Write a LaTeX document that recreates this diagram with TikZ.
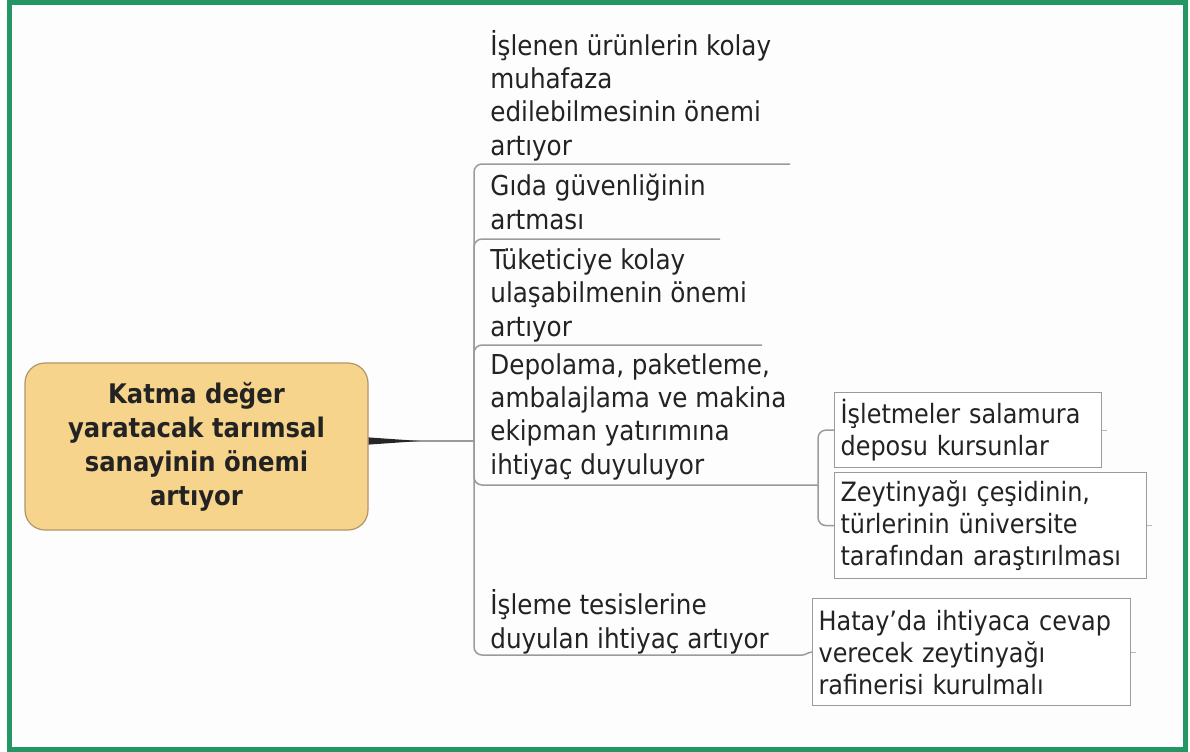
\documentclass[tikz,border=0pt]{standalone}
\usepackage{fontspec}
\setmainfont{DejaVu Sans Condensed}
\usepackage{tikz}

\definecolor{rahmen}{RGB}{35,150,100}
\definecolor{kasten}{RGB}{247,212,140}
\definecolor{kastenrand}{RGB}{175,150,105}
\definecolor{linie}{RGB}{155,155,155}
\definecolor{schrift}{RGB}{35,35,35}

\begin{document}
\begin{tikzpicture}[x=0.5pt,y=-0.5pt,
		thema/.style={draw=kastenrand,fill=kasten,line width=0.6pt,rounded corners=10pt,
			minimum width=171.5pt,minimum height=83.5pt,align=center,text=schrift,
			font=\bfseries\fontsize{13.5}{17}\selectfont},
		punkt/.style={anchor=base west,align=left,inner sep=0pt,text=schrift,
			font=\fontsize{13.7}{16.6}\selectfont},
		kiste/.style={draw=linie,fill=white,line width=0.6pt,anchor=north west,align=left,
			inner xsep=3pt,inner ysep=0pt,text=schrift,font=\fontsize{13.3}{16}\selectfont},
		ast/.style={draw=linie,line width=0.75pt,rounded corners=4pt},
		stummel/.style={draw=linie!70,line width=0.5pt}]
	\useasboundingbox (0,0) rectangle (1190,751);
	\fill[white] (0,0) rectangle (1190,751);
	\draw[rahmen,line width=2.5pt,fill={rgb,255:red,253;green,253;blue,253}] (9.5,2) rectangle (1185.5,749.5);

	% Hauptthema
	\node[thema] (haupt) at (196.5,446.5) {Katma değer\\yaratacak tarımsal\\sanayinin önemi\\artıyor};

	% Unterpunkte (Anker = Grundlinie der letzten Zeile)
	\node[punkt] (p1) at (490,155) {İşlenen ürünlerin kolay\\muhafaza\\edilebilmesinin önemi\\artıyor};
	\node[punkt] (p2) at (490,229) {Gıda güvenliğinin\\artması};
	\node[punkt] (p3) at (490,336) {Tüketiciye kolay\\ulaşabilmenin önemi\\artıyor};
	\node[punkt] (p4) at (490,474) {Depolama, paketleme,\\ambalajlama ve makina\\ekipman yatırımına\\ihtiyaç duyuluyor};
	\node[punkt] (p5) at (490,648) {İşleme tesislerine\\duyulan ihtiyaç artıyor};

	\node[kiste,text width=127.5pt,minimum height=37.5pt] (k1) at (834,392) {İşletmeler salamura\\deposu kursunlar};
	\node[kiste,text width=150pt,minimum height=53pt] (k2) at (834,472) {Zeytinyağı çeşidinin,\\türlerinin üniversite\\tarafından araştırılması};
	\node[kiste,text width=153pt,minimum height=53.5pt] (k3) at (812,598) {Hatay'da ihtiyaca cevap\\verecek zeytinyağı\\rafinerisi kurulmalı};

	\coordinate (hub) at (474,441);
	\coordinate (keil) at (420,441);
	\coordinate (ansatz) at (haupt.east |- hub);
	\coordinate (u1) at (790,164);
	\coordinate (u2) at (720,239);
	\coordinate (u3) at (762,345);
	\coordinate (gabel) at (818,485);
	\coordinate (u5) at (802,655);

	% Verbindungen
	\draw[ast] (ansatz) -- (hub);
	\fill[black!85] ([yshift=1.8pt]ansatz) -- (keil) -- ([yshift=-1.8pt]ansatz) -- cycle;
	\draw[ast] (hub) |- (u1);
	\draw[ast] (hub) |- (u2);
	\draw[ast] (hub) |- (u3);
	\draw[ast] (hub) |- (gabel);
	\draw[ast] (hub) |- (u5);
	\draw[ast] (gabel) |- (k1.west);
	\draw[ast] (gabel) |- (k2.west);
	\draw[ast] (u5) to[out=0,in=180] (k3.west);

	\draw[stummel] (k1.east) -- ++(5,0);
	\draw[stummel] (k2.east) -- ++(5,0);
	\draw[stummel] (k3.east) -- ++(5,0);
\end{tikzpicture}
\end{document}
